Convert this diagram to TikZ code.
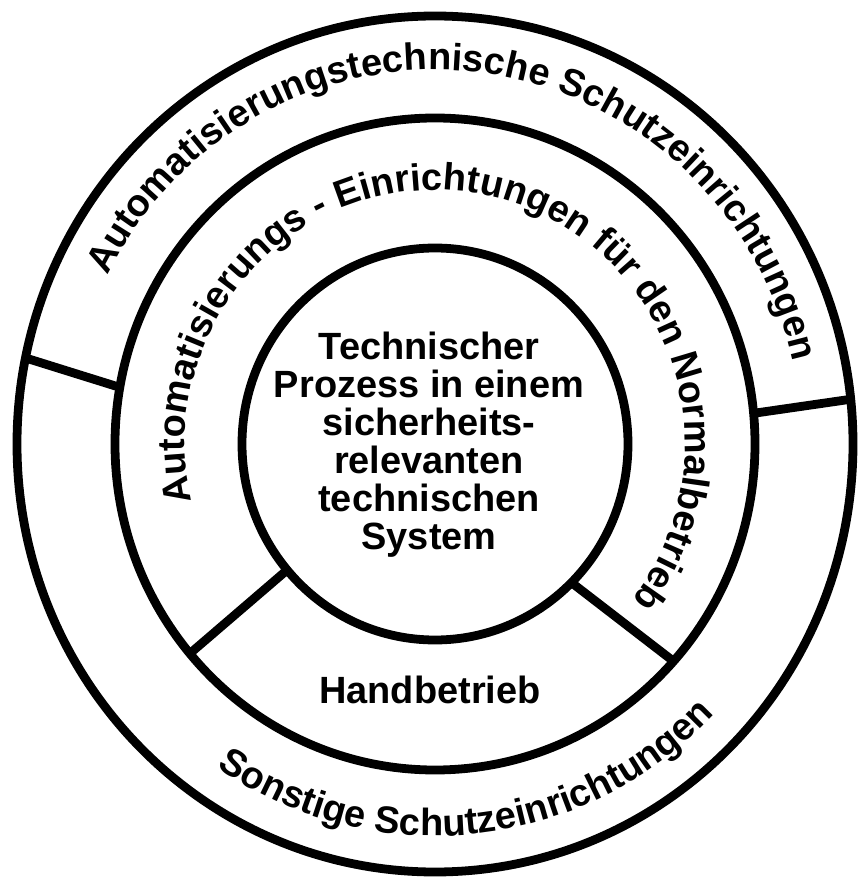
\documentclass[tikz,border=0pt]{standalone}
\usepackage{fontspec}
\setmainfont{Liberation Sans}
\usetikzlibrary{decorations.text}
\newcommand{\ringfont}{\bfseries\fontsize{21.6}{21.6}\selectfont}

\begin{document}
\begin{tikzpicture}[x=0.02cm, y=0.02cm,
        ring/.style={line width=5pt},
        arctext/.style={decorate, decoration={text along path, text align=center, text={|\ringfont|#1}}}]
        \useasboundingbox (-435,-438) rectangle (425,444);

        % Rings
        \coordinate (c) at (0,0);
        \draw[ring] (c) ellipse [x radius=418, y radius=428];
        \draw[ring] (c) ellipse [x radius=320, y radius=326];
        \draw[ring] (c) ellipse [x radius=193, y radius=196];

        % Dividers
        \draw[ring] (170:320 and 326) -- (168.4:418 and 428);
        \draw[ring] (5.4:320 and 326) -- (6:418 and 428);
        \draw[ring] (220:193 and 196) -- (220:320 and 326);
        \draw[ring] (-45:193 and 196) -- (-41.8:320 and 326);

        % Labels
        \node[align=center, font=\ringfont] (prozess) at (-6,-1) {Technischer\\Prozess in einem\\sicherheits-\\relevanten\\technischen\\System};
        \node[anchor=base, font=\ringfont] (hand) at (-5,-259) {Handbetrieb};

        % Text along the rings
        \path[arctext={Automatisierungstechnische Schutzeinrichtungen}]
            (158:367 and 374) arc[start angle=158, end angle=8, x radius=367, y radius=374];
        \path[arctext={Automatisierungs - Einrichtungen für den Normalbetrieb}]
            (200:250 and 254) arc[start angle=200, end angle=-45, x radius=250, y radius=254];
        \path[arctext={Sonstige Schutzeinrichtungen}]
            (232:386 and 392) arc[start angle=232, end angle=320, x radius=386, y radius=392];
    \end{tikzpicture}
\end{document}
